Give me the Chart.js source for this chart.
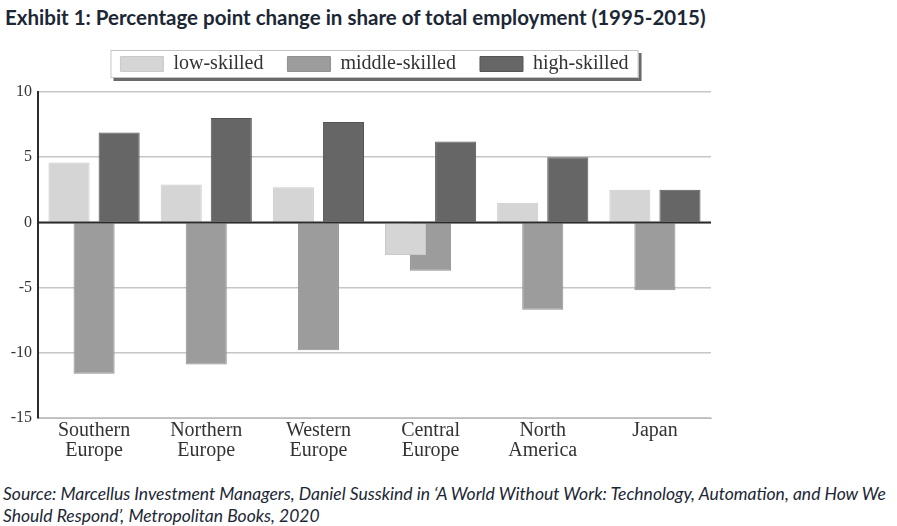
<!DOCTYPE html>
<html>
<head>
<meta charset="utf-8">
<script src="https://cdn.jsdelivr.net/npm/chart.js@4.4.1/dist/chart.umd.min.js"></script>
<style>
  body { margin: 0; background: #fff; width: 897px; height: 526px; overflow: hidden; position: relative; }
  #title { position: absolute; left: 5px; top: 5px; font: bold 20.5px Lato, sans-serif; color: #1c2735; white-space: nowrap; }
  #wrap { position: absolute; left: 0; top: 26px; width: 897px; height: 454px; }
  #source { position: absolute; left: 3px; top: 483px; font: italic 17.5px Lato, sans-serif; color: #1c2735; line-height: 22px; white-space: nowrap; }
</style>
</head>
<body>
<div id="title">Exhibit 1: Percentage point change in share of total employment (1995-2015)</div>
<div id="wrap"><canvas id="chart"></canvas></div>
<div id="source">Source: Marcellus Investment Managers, Daniel Susskind in ‘A World Without Work: Technology, Automation, and How We<br>Should Respond’, Metropolitan Books, 2020</div>
<script>
    const regions = [['Southern', 'Europe'], ['Northern', 'Europe'], ['Western', 'Europe'], ['Central', 'Europe'], ['North', 'America'], 'Japan'];
    const lowSkilled = [4.6, 2.9, 2.7, -2.5, 1.5, 2.5];
    const middleSkilled = [-11.6, -10.9, -9.8, -3.7, -6.7, -5.2];
    const highSkilled = [6.9, 8.0, 7.7, 6.2, 5.0, 2.5];

    const serif = '"Liberation Serif", "DejaVu Serif", serif';

    // box with a drop shadow round the legend, plus some room under it
    const legendFrame = {
        id: 'legendFrame',
        beforeLayout(chart) {
            const lg = chart.legend;
            if (lg && !lg._extraRoom) {
                const fit = lg.fit.bind(lg);
                lg.fit = function () { fit(); this.height += 8; };
                lg._extraRoom = true;
            }
        },
        beforeDraw(chart) {
            const lg = chart.legend;
            if (!lg || !lg.legendHitBoxes.length) return;
            const boxes = lg.legendHitBoxes;
            const left = Math.min(...boxes.map(b => b.left)) - 10;
            const right = Math.max(...boxes.map(b => b.left + b.width)) + 10;
            const mid = boxes[0].top + boxes[0].height / 2;
            const top = mid - 14;
            const bottom = mid + 14;
            const c = chart.ctx;
            c.save();
            c.fillStyle = '#6a6a6a';
            c.fillRect(left + 3, top + 3, right - left, bottom - top);
            c.fillStyle = '#fff';
            c.fillRect(left, top, right - left, bottom - top);
            c.strokeStyle = '#c4c4c4';
            c.lineWidth = 1;
            c.strokeRect(left + 0.5, top + 0.5, right - left - 1, bottom - top - 1);
            c.restore();
        }
    };

    // dark zero line drawn over the bars
    const zeroLine = {
        id: 'zeroLine',
        afterDatasetsDraw(chart) {
            const y = chart.scales.y.getPixelForValue(0);
            const c = chart.ctx;
            c.save();
            c.strokeStyle = '#2b2b2b';
            c.lineWidth = 2;
            c.beginPath();
            c.moveTo(chart.chartArea.left, y);
            c.lineTo(chart.chartArea.right, y);
            c.stroke();
            c.restore();
        }
    };

    const ctx = document.getElementById('chart').getContext('2d');
    new Chart(ctx, {
        type: 'bar',
        data: {
            labels: regions,
            datasets: [
                { label: 'low-skilled', data: lowSkilled, backgroundColor: '#d5d5d5', borderColor: '#cacaca', borderWidth: 1 },
                { label: 'middle-skilled', data: middleSkilled, backgroundColor: '#9c9c9c', borderColor: '#909090', borderWidth: 1 },
                { label: 'high-skilled', data: highSkilled, backgroundColor: '#666666', borderColor: '#555555', borderWidth: 1 }
            ]
        },
        plugins: [legendFrame, zeroLine],
        options: {
            responsive: true,
            maintainAspectRatio: false,
            animation: false,
            categoryPercentage: 0.67,
            barPercentage: 1.64,
            layout: { padding: { left: 0, right: 186, top: 4, bottom: 16 } },
            plugins: {
                legend: {
                    position: 'top',
                    fullSize: false,
                    labels: {
                        boxWidth: 43,
                        boxHeight: 15,
                        padding: 24,
                        color: '#333',
                        font: { family: serif, size: 20 }
                    }
                },
                tooltip: { enabled: false }
            },
            scales: {
                x: {
                    grid: { display: false, drawTicks: false },
                    border: { color: '#bdbdbd', width: 1 },
                    ticks: { color: '#333', font: { family: serif, size: 20, lineHeight: 1.0 }, maxRotation: 0, padding: 3 }
                },
                y: {
                    min: -15,
                    max: 10,
                    ticks: { stepSize: 5, color: '#333', font: { family: serif, size: 16 }, padding: 6 },
                    grid: { color: '#c6c6c6', lineWidth: 1.5, drawTicks: false },
                    border: { color: '#2b2b2b', width: 2 },
                    afterFit(scale) { scale.width = 38; }
                }
            }
        }
    });
</script>
</body>
</html>
